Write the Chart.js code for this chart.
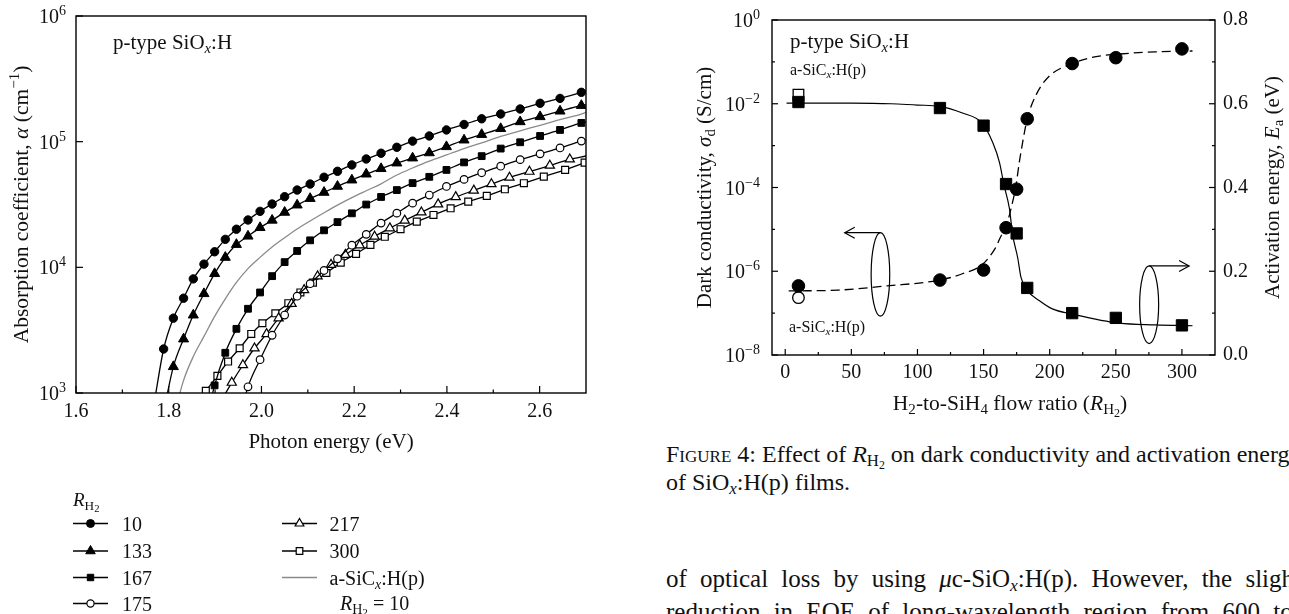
<!DOCTYPE html>
<html><head><meta charset="utf-8">
<script src="https://cdn.jsdelivr.net/npm/chart.js@4.4.1/dist/chart.umd.min.js"></script>
<style>
html,body{margin:0;padding:0;background:#fff;width:1289px;height:614px;overflow:hidden;position:relative;}
#c1{position:absolute;left:0;top:0;}
#c2{position:absolute;left:640px;top:0;}
.txt{position:absolute;white-space:nowrap;color:#111;font-family:'Liberation Serif','Times New Roman',serif;}
.sb{font-size:70%;vertical-align:-0.25em;line-height:0;}
.sc{font-variant:small-caps;}
</style></head><body>
<canvas id="c1" width="640" height="614" style="width:640px;height:614px"></canvas>
<canvas id="c2" width="649" height="420" style="width:649px;height:420px"></canvas>
<div class="txt" style="left:666px;top:442px;font-size:24px;line-height:24px"><span class="sc">Figure 4</span>: Effect of <i>R</i><span class="sb">H<span class="sb">2</span></span> on dark conductivity and activation energy</div>
<div class="txt" style="left:666px;top:470px;font-size:24px;line-height:24px">of SiO<span class="sb"><i>x</i></span>:H(p) films.</div>
<div class="txt" style="left:666px;top:566px;font-size:25px;line-height:25px;word-spacing:7px">of optical loss by using <i>μ</i>c-SiO<span class="sb"><i>x</i></span>:H(p). However, the slight</div>
<div class="txt" style="left:666px;top:599px;font-size:25px;line-height:25px;word-spacing:7px">reduction in EQE of long-wavelength region from 600 to</div>
<script>
// ---------------- Left chart data: absorption coefficient vs photon energy ----------------
const energyGrid = [2.700, 2.690, 2.644, 2.601, 2.558, 2.516, 2.475, 2.437, 2.399, 2.362, 2.326, 2.292, 2.258, 2.226, 2.195, 2.164, 2.135, 2.105, 2.077, 2.050, 2.023, 1.997, 1.971, 1.946, 1.922, 1.899, 1.876, 1.853, 1.832, 1.810, 1.789, 1.769];
const alphaR10  = [254000, 247000, 221000, 202000, 182000, 166000, 152000, 137000, 124000, 111000, 101000, 90200, 80900, 72800, 65300, 58100, 52100, 46000, 41200, 36500, 31900, 27900, 23800, 20100, 16700, 13300, 10600, 8090, 5680, 3940, 2240, 850];
const alphaR133 = [197000, 194000, 175000, 158000, 144000, 127000, 114000, 103000, 91200, 81500, 74100, 67600, 61000, 55200, 49500, 44100, 39500, 35300, 31300, 27400, 23700, 20700, 17700, 15200, 12000, 8910, 6170, 4170, 2690, 1620, 708];
const alphaR167 = [144000, 141000, 124000, 111000, 98900, 88100, 76700, 68400, 59600, 52500, 46800, 41200, 36300, 31600, 26900, 22900, 19700, 16400, 13500, 11000, 8510, 6310, 4680, 3240, 2090, 1150, 500];
const alphaR175 = [103000, 101000, 89100, 80000, 71900, 63800, 56600, 50100, 44000, 37600, 32400, 27000, 22500, 18300, 15000, 11700, 9440, 7410, 5890, 4170, 2880, 1840, 1120, 500];
const energyR217 = [2.700, 2.665, 2.622, 2.578, 2.535, 2.496, 2.458, 2.419, 2.381, 2.345, 2.309, 2.277, 2.244, 2.212, 2.181, 2.150, 2.121, 2.092, 2.065, 2.037, 2.011, 1.985, 1.960, 1.936, 1.912];
const alphaR217  = [76900, 72400, 64600, 57800, 51800, 46000, 40900, 36300, 31800, 27400, 23600, 20500, 17600, 15000, 12600, 10500, 8510, 6610, 5130, 3940, 2950, 2270, 1670, 1210, 851];
const energyR300 = [2.697, 2.655, 2.609, 2.566, 2.525, 2.486, 2.446, 2.408, 2.371, 2.335, 2.300, 2.266, 2.235, 2.204, 2.171, 2.140, 2.111, 2.084, 2.058, 2.030, 2.002, 1.978, 1.953, 1.928, 1.905, 1.880];
const alphaR300  = [68100, 59600, 52700, 46700, 41800, 37000, 33300, 29500, 26100, 23100, 20100, 17500, 15100, 12800, 10900, 9020, 7550, 6310, 5180, 4310, 3590, 2950, 2270, 1780, 1370, 1040];
const alphaSiC   = [171000, 166000, 150000, 135000, 122000, 110000, 97700, 88100, 78500, 70000, 61700, 54300, 46200, 40700, 35900, 31300, 27200, 23400, 20200, 17200, 14500, 12000, 9770, 7590, 5620, 4070, 2820, 1950, 1260, 631];
const energyTicks = [1.6, 1.8, 2.0, 2.2, 2.4, 2.6];
const energyMinorTicks = [1.7, 1.9, 2.1, 2.3, 2.5];
const alphaTickExp = [3, 4, 5, 6];
const legendLabels = ['10', '133', '167', '175', '217', '300'];

// ---------------- Right chart data: conductivity / activation energy vs R_H2 ----------------
const ratioR = [10, 117, 150, 167, 175, 183, 217, 250, 300];
const sigmaD = [1.10e-2, 7.9e-3, 3.0e-3, 1.21e-4, 8.0e-6, 4.0e-7, 1.0e-7, 7.7e-8, 5.1e-8];
const actEnergy = [0.165, 0.179, 0.203, 0.304, 0.396, 0.564, 0.696, 0.710, 0.731];
const sicRatio = [10];
const sicSigma = [1.64e-2];
const sicEa = [0.137];
const sigmaFitR = [1, 50, 80, 100, 117, 134, 149, 157, 162, 165.5, 169.5, 172, 175.8, 178.3, 183.3, 192, 202, 217, 252.6, 280, 308];
const sigmaFitV = [1.04e-2, 1.035e-2, 1.0e-2, 9.3e-3, 8.7e-3, 6.0e-3, 3.4e-3, 1.17e-3, 4.0e-4, 1.12e-4, 3.2e-5, 7.4e-6, 2.1e-6, 7.1e-7, 3.4e-7, 2.0e-7, 1.26e-7, 9.5e-8, 5.75e-8, 5.25e-8, 5.0e-8];
const eaFitR = [2.6, 40, 77, 117, 134, 149, 159, 163, 166.6, 170.8, 174.5, 177, 179.5, 183, 190, 199.4, 217, 234, 250, 280, 308];
const eaFitV = [0.153, 0.155, 0.165, 0.179, 0.194, 0.216, 0.256, 0.283, 0.303, 0.350, 0.405, 0.460, 0.507, 0.564, 0.623, 0.665, 0.696, 0.712, 0.718, 0.724, 0.726];
const ratioTicks = [0, 50, 100, 150, 200, 250, 300];
const ratioMinorTicks = [25, 75, 125, 175, 225, 275];
const sigmaTickExp = [0, -2, -4, -6, -8];
const sigmaMinorExp = [-1, -3, -5, -7];
const eaTicks = [0, 0.2, 0.4, 0.6, 0.8];
const eaMinorTicks = [0.1, 0.3, 0.5, 0.7];

// ---------------- helpers ----------------
const SERIF = "'Liberation Serif','Times New Roman',serif";
const INK = '#111';
const T = (t, o) => Object.assign({t}, o || {});
function segFont(seg, size) {
  const l = seg.s || 0;
  const f = l === 0 ? 1 : (l === 2 ? 0.56 : 0.7);
  const dy = l === 1 ? 0.2 * size : l === 2 ? 0.34 * size : l === -1 ? -0.4 * size : 0;
  return {font: (seg.i ? 'italic ' : '') + (size * f).toFixed(2) + 'px ' + SERIF, dy};
}
function richWidth(ctx, segs, size) {
  let w = 0;
  for (const s of segs) { ctx.font = segFont(s, size).font; w += ctx.measureText(s.t).width; }
  return w;
}
function drawRich(ctx, segs, x, y, size, align, rot) {
  ctx.save();
  ctx.translate(x, y);
  if (rot) ctx.rotate(rot);
  const w = richWidth(ctx, segs, size);
  let cx = align === 'center' ? -w / 2 : align === 'right' ? -w : 0;
  ctx.textBaseline = 'alphabetic'; ctx.textAlign = 'left'; ctx.fillStyle = INK;
  for (const s of segs) {
    const f = segFont(s, size);
    ctx.font = f.font;
    ctx.fillText(s.t, cx, f.dy);
    cx += ctx.measureText(s.t).width;
  }
  ctx.restore();
}
function marker(ctx, style, r, x, y, fill, bw) {
  ctx.beginPath();
  if (style === 'circle') ctx.arc(x, y, r, 0, Math.PI * 2);
  else if (style === 'rect') { const s = r * Math.SQRT1_2; ctx.rect(x - s, y - s, 2 * s, 2 * s); }
  else if (style === 'triangle') {
    ctx.moveTo(x, y - r);
    ctx.lineTo(x + r * Math.sin(2 * Math.PI / 3), y - r * Math.cos(2 * Math.PI / 3));
    ctx.lineTo(x + r * Math.sin(4 * Math.PI / 3), y - r * Math.cos(4 * Math.PI / 3));
    ctx.closePath();
  }
  ctx.fillStyle = fill; ctx.fill();
  ctx.lineWidth = bw; ctx.strokeStyle = '#000'; ctx.stroke();
}
function pts(xs, ys) {
  return ys.map((y, i) => ({x: xs[i], y})).sort((a, b) => a.x - b.x);
}
function seg(ctx, x1, y1, x2, y2) { ctx.beginPath(); ctx.moveTo(x1, y1); ctx.lineTo(x2, y2); ctx.stroke(); }
const hideEdge = r => c => (c.raw && (c.raw.x > 2.699 || c.raw.y < 1000)) ? 0 : r;

// ---------------- Left chart ----------------
const leftStyles = [
  {ps: 'circle', r: 4.2, fill: '#000', bw: 1},
  {ps: 'triangle', r: 5.8, fill: '#000', bw: 1},
  {ps: 'rect', r: 4.8, fill: '#000', bw: 1},
  {ps: 'circle', r: 3.8, fill: '#fff', bw: 1.2},
  {ps: 'triangle', r: 5.3, fill: '#fff', bw: 1.2},
  {ps: 'rect', r: 4.9, fill: '#fff', bw: 1.2}
];
const leftData = [
  pts(energyGrid, alphaR10), pts(energyGrid, alphaR133), pts(energyGrid, alphaR167),
  pts(energyGrid, alphaR175), pts(energyR217, alphaR217), pts(energyR300, alphaR300)
];
const leftSets = leftData.map((d, i) => ({
  label: legendLabels[i], data: d,
  borderColor: '#000', borderWidth: 1.3, cubicInterpolationMode: 'monotone',
  pointStyle: leftStyles[i].ps, pointRadius: hideEdge(leftStyles[i].r),
  pointBackgroundColor: leftStyles[i].fill, pointBorderColor: '#000', pointBorderWidth: leftStyles[i].bw
}));
leftSets.push({label: 'a-SiCx:H(p)', data: pts(energyGrid, alphaSiC), borderColor: '#8a8a8a', borderWidth: 1.3,
  cubicInterpolationMode: 'monotone', pointRadius: 0});

const leftDecor = {
  id: 'leftDecor',
  afterDraw(chart) {
    const {ctx, chartArea: a, scales: {x, y}} = chart;
    ctx.save();
    ctx.strokeStyle = '#000'; ctx.lineWidth = 1.4;
    ctx.strokeRect(a.left, a.top, a.right - a.left, a.bottom - a.top);
    ctx.lineWidth = 1.2;
    energyTicks.forEach(v => { const px = x.getPixelForValue(v); seg(ctx, px, a.bottom, px, a.bottom - 7); });
    energyMinorTicks.forEach(v => { const px = x.getPixelForValue(v); seg(ctx, px, a.bottom, px, a.bottom - 3.5); });
    alphaTickExp.forEach(e => { const py = y.getPixelForValue(Math.pow(10, e)); seg(ctx, a.left, py, a.left + 7, py); });
    alphaTickExp.forEach(e => {
      const py = y.getPixelForValue(Math.pow(10, e));
      drawRich(ctx, [T('10'), T(String(e), {s: -1})], a.left - 10, py + 7, 20, 'right');
    });
    drawRich(ctx, [T('Photon energy (eV)')], (a.left + a.right) / 2, 448, 21, 'center');
    drawRich(ctx, [T('Absorption coefficient, '), T('α', {i: 1}), T(' (cm'), T('−1', {s: -1}), T(')')],
      28, (a.top + a.bottom) / 2, 21.5, 'center', -Math.PI / 2);
    drawRich(ctx, [T('p-type SiO'), T('x', {i: 1, s: 1}), T(':H')], 113, 49, 21, 'left');
    // legend
    drawRich(ctx, [T('R', {i: 1}), T('H', {s: 1}), T('2', {s: 2})], 73, 506, 19, 'left');
    const rows = [523.5, 551, 577.5, 603.5];
    const cols = [{l: 73, r: 108, m: 90.5, t: 122}, {l: 282, r: 317, m: 299.5, t: 329.5}];
    const place = [[0, 0], [0, 1], [0, 2], [0, 3], [1, 0], [1, 1]];
    place.forEach((p, i) => {
      const c = cols[p[0]], yy = rows[p[1]];
      ctx.strokeStyle = '#000'; ctx.lineWidth = 1.3; seg(ctx, c.l, yy, c.r, yy);
      const st = leftStyles[i];
      marker(ctx, st.ps, st.r * 0.95, c.m, yy, st.fill, st.bw);
      drawRich(ctx, [T(legendLabels[i])], c.t, yy + 7, 20, 'left');
    });
    ctx.strokeStyle = '#8a8a8a'; ctx.lineWidth = 1.3; seg(ctx, cols[1].l, rows[2], cols[1].r, rows[2]);
    drawRich(ctx, [T('a-SiC'), T('x', {i: 1, s: 1}), T(':H(p)')], cols[1].t, rows[2] + 7, 20, 'left');
    drawRich(ctx, [T('R', {i: 1}), T('H', {s: 1}), T('2', {s: 2}), T(' = 10')], 340, rows[3] + 6, 20, 'left');
    ctx.restore();
  }
};

new Chart(document.getElementById('c1'), {
  type: 'line',
  data: {datasets: leftSets},
  options: {
    responsive: false, animation: false, devicePixelRatio: 1,
    layout: {padding: {top: 16, right: 54, left: 0, bottom: 0}},
    plugins: {legend: {display: false}, tooltip: {enabled: false}},
    scales: {
      x: {type: 'linear', min: 1.6, max: 2.7,
        grid: {display: false, drawTicks: false}, border: {display: false},
        afterBuildTicks: s => { s.ticks = energyTicks.map(v => ({value: v})); },
        afterFit: s => { s.height = 221; },
        ticks: {padding: 7, color: INK, font: {family: SERIF, size: 20}, maxRotation: 0, autoSkip: false,
          callback: v => Number(v).toFixed(1)}},
      y: {type: 'logarithmic', min: 1e3, max: 1e6,
        grid: {display: false, drawTicks: false}, border: {display: false},
        afterBuildTicks: s => { s.ticks = alphaTickExp.map(e => ({value: Math.pow(10, e)})); },
        afterFit: s => { s.width = 76; },
        ticks: {display: false}}
    }
  },
  plugins: [leftDecor]
});

// ---------------- Right chart ----------------
const rightDecor = {
  id: 'rightDecor',
  afterDraw(chart) {
    const {ctx, chartArea: a, scales: {x, y, y1}} = chart;
    ctx.save();
    ctx.strokeStyle = '#000'; ctx.lineWidth = 1.4;
    ctx.strokeRect(a.left, a.top, a.right - a.left, a.bottom - a.top);
    ctx.lineWidth = 1.2;
    ratioTicks.forEach(v => { const px = x.getPixelForValue(v); seg(ctx, px, a.bottom, px, a.bottom - 6); });
    ratioMinorTicks.forEach(v => { const px = x.getPixelForValue(v); seg(ctx, px, a.bottom, px, a.bottom - 3); });
    sigmaTickExp.forEach(e => { const py = y.getPixelForValue(Math.pow(10, e)); seg(ctx, a.left, py, a.left + 6, py); });
    sigmaMinorExp.forEach(e => { const py = y.getPixelForValue(Math.pow(10, e)); seg(ctx, a.left, py, a.left + 3, py); });
    eaTicks.forEach(v => { const py = y1.getPixelForValue(v); seg(ctx, a.right, py, a.right - 6, py); });
    eaMinorTicks.forEach(v => { const py = y1.getPixelForValue(v); seg(ctx, a.right, py, a.right - 3, py); });
    sigmaTickExp.forEach(e => {
      const py = y.getPixelForValue(Math.pow(10, e));
      drawRich(ctx, [T('10'), T(e < 0 ? '−' + (-e) : String(e), {s: -1})], a.left - 12, py + 7, 20, 'right');
    });
    // titles
    drawRich(ctx, [T('H'), T('2', {s: 1}), T('-to-SiH'), T('4', {s: 1}), T(' flow ratio ('), T('R', {i: 1}), T('H', {s: 1}), T('2', {s: 2}), T(')')],
      370, 410, 21.5, 'center');
    drawRich(ctx, [T('Dark conductivity, '), T('σ', {i: 1}), T('d', {s: 1}), T(' (S/cm)')],
      71, (a.top + a.bottom) / 2, 21, 'center', -Math.PI / 2);
    drawRich(ctx, [T('Activation energy, '), T('E', {i: 1}), T('a', {s: 1}), T(' (eV)')],
      639, (a.top + a.bottom) / 2, 21, 'center', -Math.PI / 2);
    drawRich(ctx, [T('p-type SiO'), T('x', {i: 1, s: 1}), T(':H')], 150, 48, 21, 'left');
    drawRich(ctx, [T('a-SiC'), T('x', {i: 1, s: 1}), T(':H(p)')], 150, 75, 16, 'left');
    drawRich(ctx, [T('a-SiC'), T('x', {i: 1, s: 1}), T(':H(p)')], 149, 332, 16, 'left');
    // ellipses with arrows
    ctx.lineWidth = 1.2; ctx.strokeStyle = '#000';
    const e1x = x.getPixelForValue(72), e1y = y.getPixelForValue(8.4e-7);
    ctx.beginPath(); ctx.ellipse(e1x, e1y, 9.3, 41.7, 0, 0, Math.PI * 2); ctx.stroke();
    const a1 = x.getPixelForValue(45), t1 = e1y - 41.7;
    seg(ctx, e1x, t1, a1, t1);
    ctx.beginPath(); ctx.moveTo(a1 + 10, t1 - 5.5); ctx.lineTo(a1, t1); ctx.lineTo(a1 + 10, t1 + 5.5); ctx.stroke();
    const e2x = x.getPixelForValue(275.2), e2y = y1.getPixelForValue(0.12);
    ctx.beginPath(); ctx.ellipse(e2x, e2y, 9.5, 38.8, 0, 0, Math.PI * 2); ctx.stroke();
    const a2 = x.getPixelForValue(305.4), t2 = e2y - 38.8;
    seg(ctx, e2x, t2, a2, t2);
    ctx.beginPath(); ctx.moveTo(a2 - 10, t2 - 5.5); ctx.lineTo(a2, t2); ctx.lineTo(a2 - 10, t2 + 5.5); ctx.stroke();
    ctx.restore();
  }
};

new Chart(document.getElementById('c2'), {
  type: 'line',
  data: {datasets: [
    {label: 'sigma', data: pts(ratioR, sigmaD), yAxisID: 'y', showLine: false,
      pointStyle: 'rect', pointRadius: 8, pointBackgroundColor: '#000', pointBorderColor: '#000', pointBorderWidth: 1},
    {label: 'Ea', data: pts(ratioR, actEnergy), yAxisID: 'y1', showLine: false,
      pointStyle: 'circle', pointRadius: 6.3, pointBackgroundColor: '#000', pointBorderColor: '#000', pointBorderWidth: 1},
    {label: 'sigma a-SiC', data: pts(sicRatio, sicSigma), yAxisID: 'y', showLine: false,
      pointStyle: 'rect', pointRadius: 7.5, pointBackgroundColor: '#fff', pointBorderColor: '#000', pointBorderWidth: 1.3},
    {label: 'Ea a-SiC', data: pts(sicRatio, sicEa), yAxisID: 'y1', showLine: false,
      pointStyle: 'circle', pointRadius: 5.8, pointBackgroundColor: '#fff', pointBorderColor: '#000', pointBorderWidth: 1.3},
    {label: 'sigma fit', data: pts(sigmaFitR, sigmaFitV), yAxisID: 'y', pointRadius: 0,
      borderColor: '#000', borderWidth: 1.2, cubicInterpolationMode: 'monotone'},
    {label: 'Ea fit', data: pts(eaFitR, eaFitV), yAxisID: 'y1', pointRadius: 0,
      borderColor: '#000', borderWidth: 1.3, borderDash: [9, 5], cubicInterpolationMode: 'monotone'}
  ]},
  options: {
    responsive: false, animation: false, devicePixelRatio: 1,
    layout: {padding: {top: 16, right: 0, left: 0, bottom: 0}},
    plugins: {legend: {display: false}, tooltip: {enabled: false}},
    scales: {
      x: {type: 'linear', min: -10, max: 325,
        grid: {display: false, drawTicks: false}, border: {display: false},
        afterBuildTicks: s => { s.ticks = ratioTicks.map(v => ({value: v})); },
        afterFit: s => { s.height = 65; },
        ticks: {padding: 6, color: INK, font: {family: SERIF, size: 20}, maxRotation: 0, autoSkip: false,
          callback: v => String(v)}},
      y: {type: 'logarithmic', position: 'left', min: 1e-8, max: 1,
        grid: {display: false, drawTicks: false}, border: {display: false},
        afterBuildTicks: s => { s.ticks = sigmaTickExp.map(e => ({value: Math.pow(10, e)})); },
        afterFit: s => { s.width = 132; },
        ticks: {display: false}},
      y1: {type: 'linear', position: 'right', min: 0, max: 0.8,
        grid: {display: false, drawTicks: false}, border: {display: false},
        afterBuildTicks: s => { s.ticks = eaTicks.map(v => ({value: v})); },
        afterFit: s => { s.width = 74; },
        ticks: {padding: 8, color: INK, font: {family: SERIF, size: 20}, autoSkip: false,
          callback: v => Number(v).toFixed(1)}}
    }
  },
  plugins: [rightDecor]
});
</script>
</body></html>
